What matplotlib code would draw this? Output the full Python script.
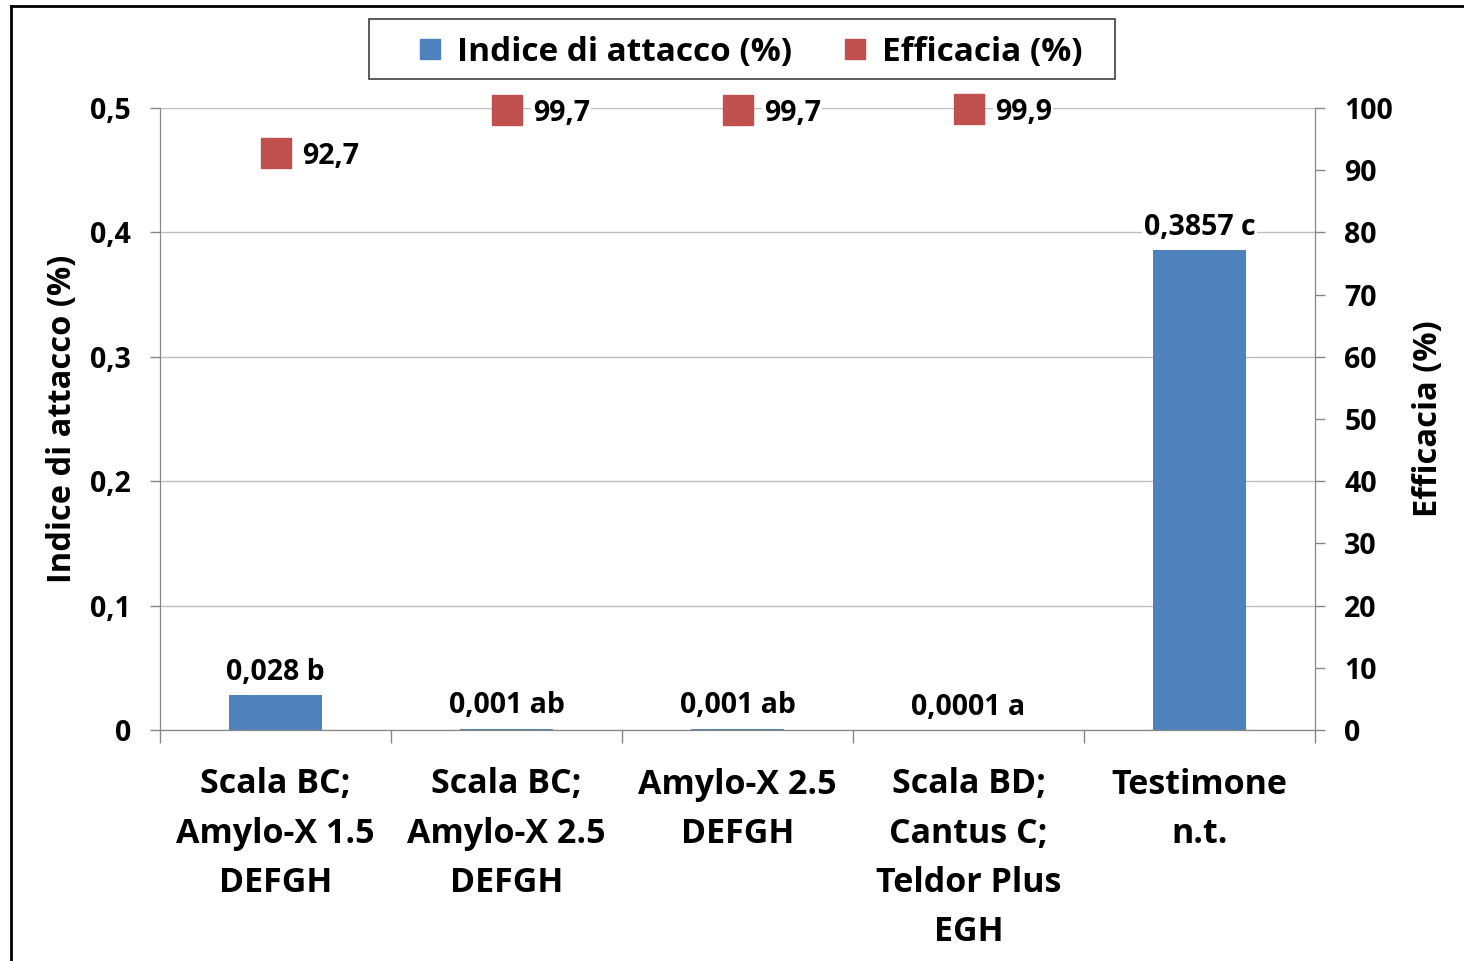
import matplotlib
matplotlib.use('Agg')
from matplotlib import pyplot as plt
from matplotlib.lines import Line2D
from matplotlib.patches import Rectangle
import numpy as np

plt.rcParams['font.family'] = ['Open Sans', 'DejaVu Sans']
plt.rcParams['font.weight'] = 'bold'

categories = ['Scala BC;\nAmylo-X 1.5\nDEFGH', 'Scala BC;\nAmylo-X 2.5\nDEFGH',
              'Amylo-X 2.5\nDEFGH', 'Scala BD;\nCantus C;\nTeldor Plus\nEGH', 'Testimone\nn.t.']
indice = [0.028, 0.001, 0.001, 0.0001, 0.3857]
indice_labels = ['0,028 b', '0,001 ab', '0,001 ab', '0,0001 a', '0,3857 c']
efficacia = [92.7, 99.7, 99.7, 99.9]
efficacia_labels = ['92,7', '99,7', '99,7', '99,9']

blue = '#4F81BD'
red = '#C0504D'
grid_c = '#BEBEBE'
spine_c = '#868686'
num_fs = 20.5

fig = plt.figure(figsize=(14.64, 9.61), dpi=100)
ax1 = fig.add_axes([160 / 1464, 1 - 730 / 961, 1155 / 1464, 622 / 961])
ax2 = ax1.twinx()

x = np.arange(len(categories))
ax1.bar(x, indice, width=0.4, color=blue, zorder=2)
for xi, v, lab in zip(x, indice, indice_labels):
    ax1.annotate(lab, (xi, v), xytext=(0, 6), textcoords='offset points',
                 ha='center', va='bottom', fontsize=num_fs, fontweight='bold',
                 bbox=dict(facecolor='white', edgecolor='none', pad=1), zorder=5)

ax1.set_xlim(-0.5, len(categories) - 0.5)
ax1.set_ylim(0, 0.5)
ax1.set_yticks(np.arange(0, 0.51, 0.1))
ax1.set_yticklabels(['0', '0,1', '0,2', '0,3', '0,4', '0,5'], fontsize=num_fs, fontweight='bold')
ax1.yaxis.grid(True, color=grid_c, linewidth=1, zorder=0)
ax1.set_axisbelow(True)
ax1.set_xticks(x)
ax1.set_xticklabels(categories, fontsize=24.5, fontweight='bold', linespacing=1.58)
ax1.set_xticks(np.arange(-0.5, len(categories)), minor=True)
ax1.tick_params(axis='x', which='major', length=0, pad=27)
ax1.tick_params(axis='x', which='minor', length=9, color=spine_c, width=1)
ax1.tick_params(axis='y', length=7, color=spine_c, width=1, pad=14)
ax1.set_ylabel('Indice di attacco (%)', fontsize=23.5, fontweight='bold', labelpad=8)

for s in ['top']:
    ax1.spines[s].set_visible(False)
    ax2.spines[s].set_visible(False)
for s in ['left', 'bottom', 'right']:
    ax1.spines[s].set_color(spine_c)
    ax2.spines[s].set_color(spine_c)

ax2.set_ylim(0, 100)
ax2.set_yticks(np.arange(0, 101, 10))
ax2.set_yticklabels([str(v) for v in range(0, 101, 10)], fontsize=num_fs, fontweight='bold')
ax2.tick_params(axis='y', length=7, color=spine_c, width=1, pad=14)
ax2.plot(x[:len(efficacia)], efficacia, linestyle='none', marker='s', markersize=21,
         color=red, markeredgecolor=red, zorder=4, clip_on=False)
for xi, v, lab in zip(x, efficacia, efficacia_labels):
    ax2.annotate(lab, (xi, v), xytext=(19, -2.5), textcoords='offset points',
                 ha='left', va='center', fontsize=num_fs, fontweight='bold',
                 bbox=dict(facecolor='white', edgecolor='none', pad=1), zorder=5,
                 annotation_clip=False)
ax2.set_ylabel('Efficacia (%)', fontsize=23.5, fontweight='bold', labelpad=14)

handles = [Line2D([], [], linestyle='none', marker='s', markersize=15, color=blue),
           Line2D([], [], linestyle='none', marker='s', markersize=15, color=red)]
leg = fig.legend(handles, ['Indice di attacco (%)', 'Efficacia (%)'], loc='center',
                 bbox_to_anchor=(748 / 1464, 1 - 52 / 961), ncol=2, fontsize=24,
                 frameon=False, handlelength=1.0, handletextpad=0.3, columnspacing=1.4)
for t in leg.get_texts():
    t.set_fontweight('bold')
fig.add_artist(Rectangle((369 / 1464, 1 - 79 / 961), 746 / 1464, 60 / 961,
                         transform=fig.transFigure, facecolor='none',
                         edgecolor='#404040', linewidth=1.2))

# outer chart frame
fig.add_artist(Line2D([11 / 1464, 11 / 1464], [0, 1 - 6 / 961], color='black', linewidth=2))
fig.add_artist(Line2D([11 / 1464, 1], [1 - 6 / 961, 1 - 6 / 961], color='black', linewidth=2))

fig.savefig('out.png', dpi=100)
